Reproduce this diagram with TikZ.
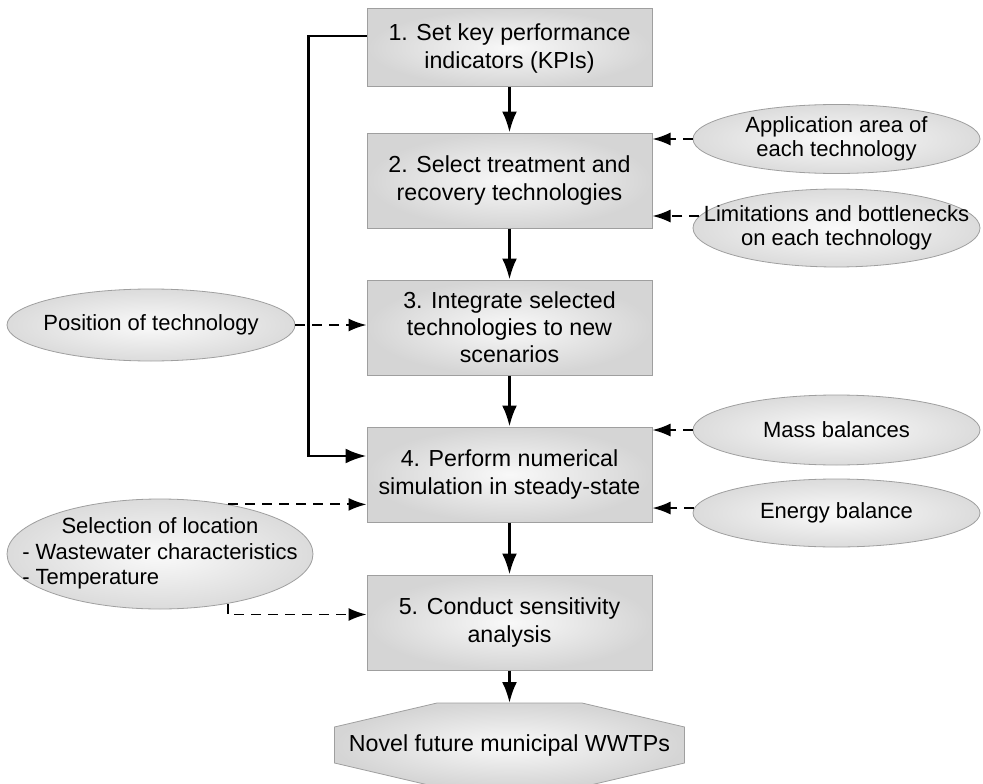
\documentclass[tikz,border=0pt]{standalone}
\usepackage{fontspec}
\setmainfont{Liberation Sans}
\usetikzlibrary{positioning,shapes.geometric,arrows.meta,calc}
\tikzset{stepbox/.style={draw=gray!75,line width=1pt,inner color=gray!5,outer color=gray!33,minimum width=285pt,minimum height=95pt,align=center,font=\fontsize{23.2}{28}\selectfont},
inputell/.style={ellipse,draw=gray!75,line width=0.8pt,inner color=gray!4,outer color=gray!28,minimum width=287pt,minimum height=70pt,inner xsep=-50pt,inner ysep=0pt,align=center,font=\fontsize{22}{24.5}\selectfont},
flow/.style={line width=2.8pt,-{Latex[length=21pt,width=15pt]}},
feed/.style={line width=1.8pt,dash pattern=on 10pt off 7pt,-{Latex[length=18pt,width=13pt]}}
}

\begin{document}
\begin{tikzpicture}[x=1pt,y=-1pt]
  \useasboundingbox (0,0) rectangle (983,784);

  % Steps
  \node[stepbox, minimum height=78pt] (b1) at (509.5,48) {1. Set key performance\\indicators (KPIs)};
  \node[stepbox, below=45pt of b1] (b2) {2. Select treatment and\\recovery technologies};
  \node[stepbox, below=51pt of b2, font=\fontsize{23.2}{27}\selectfont] (b3) {3. Integrate selected\\technologies to new\\scenarios};
  \node[stepbox, below=51pt of b3] (b4) {4. Perform numerical\\simulation in steady-state};
  \node[stepbox, below=52pt of b4] (b5) {5. Conduct sensitivity\\analysis};

  % Outcome
  \coordinate (oc) at (509.5,745);
  \draw[draw=gray!75,line width=0.8pt,inner color=gray!5,outer color=gray!33] ($(oc)+(-72.5,-42)$) -- ($(oc)+(72.5,-42)$) -- ($(oc)+(175,-18)$) -- ($(oc)+(175,18)$) -- ($(oc)+(72.5,42)$) -- ($(oc)+(-72.5,42)$) -- ($(oc)+(-175,18)$) -- ($(oc)+(-175,-18)$) -- cycle;
  \node[font=\fontsize{23.2}{28}\selectfont] (out) at (oc) {Novel future municipal WWTPs};
  \coordinate (outtop) at ($(oc)+(0,-42)$);

  % Inputs
  \node[inputell, minimum height=69pt] (e1) at (836.5,139) {Application area of\\each technology};
  \node[inputell, minimum height=78pt] (e2) at (836.5,228) {Limitations and bottlenecks\\on each technology};
  \node[inputell] (e3) at (836.5,430) {Mass balances};
  \node[inputell, minimum height=68pt] (e4) at (836.5,513) {Energy balance};
  \node[inputell, minimum width=288pt, minimum height=72pt] (e5) at (151,325) {Position of technology};
  \node[inputell, minimum width=306pt, minimum height=110pt, font=\fontsize{22}{25.5}\selectfont] (e6) at (160,554) {\begin{tabular}{@{}l@{}}\multicolumn{1}{@{}c@{}}{Selection of location}\\- Wastewater characteristics\\- Temperature\end{tabular}};

  % Main flow
  \draw[flow] (b1.south) -- (b2.north);
  \draw[flow] (b2.south) -- (b3.north);
  \draw[flow] (b3.south) -- (b4.north);
  \draw[flow] (b4.south) -- (b5.north);
  \draw[flow] (b5.south) -- (outtop);
  \draw[flow] ([yshift=12pt]b1.west) -- ++(-58,0) |- ([yshift=18.5pt]b4.west);

  % Inputs to steps
  \draw[feed] (e1.west) -- (e1.west -| b2.east);
  \draw[feed] (e2.175) -- (e2.175 -| b2.east);
  \draw[feed] (e5.east) -- (e5.east -| b3.west);
  \draw[feed] (e3.west) -- (e3.west -| b4.east);
  \draw[feed] (e4.178) -- (e4.178 -| b4.east);
  \draw[feed] (e6.36.7) -- (e6.36.7 -| b4.west);
  \draw[feed] (e6.-36.7) |- ([yshift=8pt]b5.west);

\end{tikzpicture}
\end{document}
